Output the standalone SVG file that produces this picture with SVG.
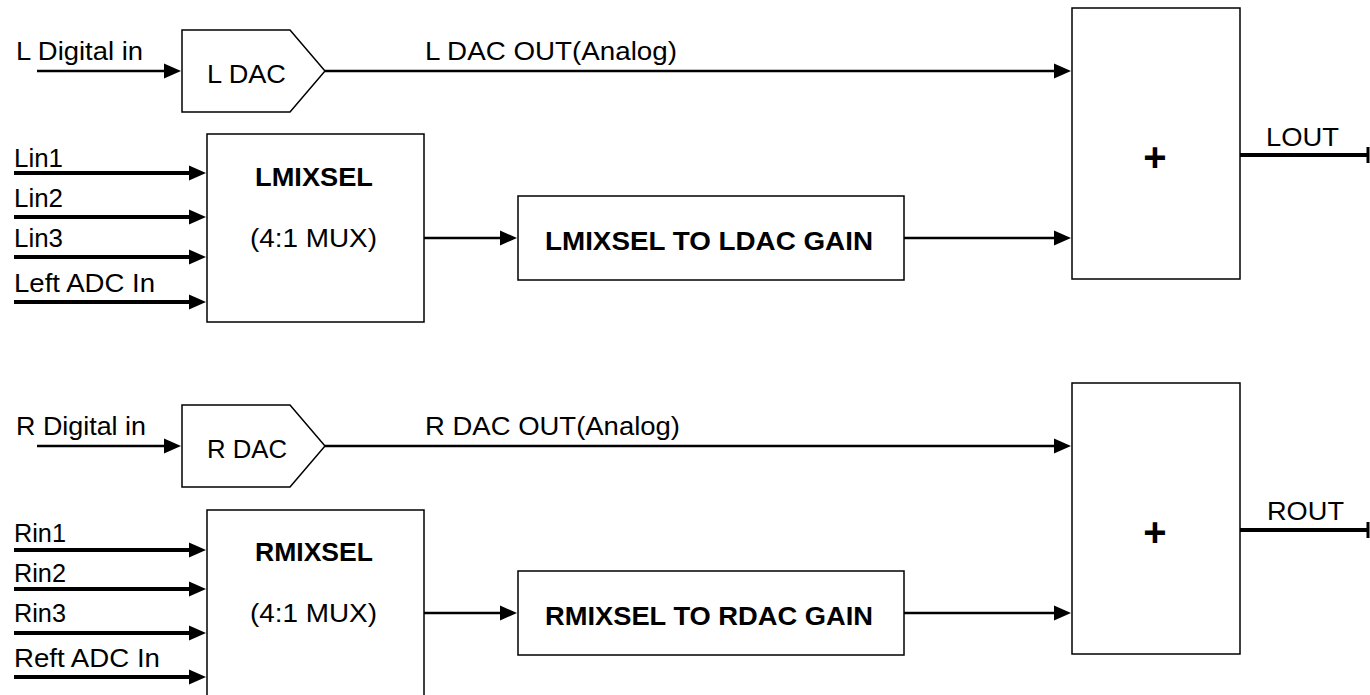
<svg xmlns="http://www.w3.org/2000/svg" width="1370" height="695" viewBox="0 0 1370 695">
<style>
text{font-family:"Liberation Sans",Arial,sans-serif;font-size:26px;fill:#000}
.b{font-weight:bold}
.plus{font-weight:bold;font-size:40px}
.box{fill:#fff;stroke:#000;stroke-width:1.5}
.thin{fill:none;stroke:#000;stroke-width:2.5}
.thick{fill:none;stroke:#000;stroke-width:4}
</style>
<defs>
<marker id="arr" markerUnits="userSpaceOnUse" viewBox="0 -8 17 16" refX="1" refY="0" markerWidth="17" markerHeight="16" orient="auto" overflow="visible">
<path d="M0,-7.5 L17,0 L0,7.5 z" fill="#000"/>
</marker>
<marker id="tee" markerUnits="userSpaceOnUse" viewBox="-2 -9 4 18" refX="0" refY="0" markerWidth="4" markerHeight="18" orient="auto" overflow="visible">
<rect x="-1.5" y="-8" width="3" height="16" fill="#000"/>
</marker>
</defs>
<rect width="1370" height="695" fill="#fff"/>

<g id="connectors">
<line class="thin" x1="37" y1="71" x2="165" y2="71" marker-end="url(#arr)"/>
<line class="thin" x1="325" y1="71" x2="1055" y2="71" marker-end="url(#arr)"/>
<line class="thick" x1="14" y1="173" x2="190" y2="173" marker-end="url(#arr)"/>
<line class="thick" x1="14" y1="217" x2="190" y2="217" marker-end="url(#arr)"/>
<line class="thick" x1="14" y1="257" x2="190" y2="257" marker-end="url(#arr)"/>
<line class="thick" x1="14" y1="302" x2="190" y2="302" marker-end="url(#arr)"/>
<line class="thin" x1="424" y1="238" x2="501" y2="238" marker-end="url(#arr)"/>
<line class="thin" x1="904" y1="238" x2="1055" y2="238" marker-end="url(#arr)"/>
<line class="thick" x1="1240" y1="155" x2="1368" y2="155" marker-end="url(#tee)"/>

<line class="thin" x1="37" y1="446" x2="165" y2="446" marker-end="url(#arr)"/>
<line class="thin" x1="325" y1="446" x2="1055" y2="446" marker-end="url(#arr)"/>
<line class="thick" x1="14" y1="550" x2="190" y2="550" marker-end="url(#arr)"/>
<line class="thick" x1="14" y1="589" x2="190" y2="589" marker-end="url(#arr)"/>
<line class="thick" x1="14" y1="633" x2="190" y2="633" marker-end="url(#arr)"/>
<line class="thick" x1="14" y1="677" x2="190" y2="677" marker-end="url(#arr)"/>
<line class="thin" x1="424" y1="613" x2="501" y2="613" marker-end="url(#arr)"/>
<line class="thin" x1="904" y1="613" x2="1055" y2="613" marker-end="url(#arr)"/>
<line class="thick" x1="1240" y1="530" x2="1368" y2="530" marker-end="url(#tee)"/>

<text x="16" y="60" textLength="127" lengthAdjust="spacingAndGlyphs">L Digital in</text>
<text x="425" y="60" textLength="252" lengthAdjust="spacingAndGlyphs">L DAC OUT(Analog)</text>
<text x="14" y="167" textLength="49" lengthAdjust="spacingAndGlyphs">Lin1</text>
<text x="14" y="207" textLength="49" lengthAdjust="spacingAndGlyphs">Lin2</text>
<text x="14" y="247" textLength="49" lengthAdjust="spacingAndGlyphs">Lin3</text>
<text x="14" y="292" textLength="141" lengthAdjust="spacingAndGlyphs">Left ADC In</text>
<text x="1266" y="146" textLength="73" lengthAdjust="spacingAndGlyphs">LOUT</text>

<text x="16" y="435" textLength="130" lengthAdjust="spacingAndGlyphs">R Digital in</text>
<text x="425" y="435" textLength="255" lengthAdjust="spacingAndGlyphs">R DAC OUT(Analog)</text>
<text x="14" y="542" textLength="52" lengthAdjust="spacingAndGlyphs">Rin1</text>
<text x="14" y="582" textLength="52" lengthAdjust="spacingAndGlyphs">Rin2</text>
<text x="14" y="622" textLength="52" lengthAdjust="spacingAndGlyphs">Rin3</text>
<text x="14" y="667" textLength="146" lengthAdjust="spacingAndGlyphs">Reft ADC In</text>
<text x="1267" y="520" textLength="77" lengthAdjust="spacingAndGlyphs">ROUT</text>
</g>

<g id="ldac">
<polygon class="box" points="182,30 290,30 325,71 290,112 182,112"/>
<text x="207" y="83" textLength="79" lengthAdjust="spacingAndGlyphs">L DAC</text>
</g>
<g id="lmixsel">
<rect class="box" x="207" y="134" width="217" height="188"/>
<text class="b" x="255" y="186" textLength="118" lengthAdjust="spacingAndGlyphs">LMIXSEL</text>
<text x="250" y="247" textLength="127" lengthAdjust="spacingAndGlyphs">(4:1 MUX)</text>
</g>
<g id="lgain">
<rect class="box" x="518" y="196" width="386" height="84"/>
<text class="b" x="545" y="250" textLength="328" lengthAdjust="spacingAndGlyphs">LMIXSEL TO LDAC GAIN</text>
</g>
<g id="lsum">
<rect class="box" x="1072" y="8" width="168" height="271"/>
<text class="plus" x="1155" y="171" text-anchor="middle">+</text>
</g>

<g id="rdac">
<polygon class="box" points="182,405 290,405 325,446 290,487 182,487"/>
<text x="207" y="458" textLength="80" lengthAdjust="spacingAndGlyphs">R DAC</text>
</g>
<g id="rmixsel">
<rect class="box" x="207" y="510" width="217" height="200"/>
<text class="b" x="255" y="561" textLength="118" lengthAdjust="spacingAndGlyphs">RMIXSEL</text>
<text x="250" y="622" textLength="127" lengthAdjust="spacingAndGlyphs">(4:1 MUX)</text>
</g>
<g id="rgain">
<rect class="box" x="518" y="571" width="386" height="84"/>
<text class="b" x="545" y="625" textLength="328" lengthAdjust="spacingAndGlyphs">RMIXSEL TO RDAC GAIN</text>
</g>
<g id="rsum">
<rect class="box" x="1072" y="383" width="168" height="271"/>
<text class="plus" x="1155" y="546" text-anchor="middle">+</text>
</g>
</svg>
